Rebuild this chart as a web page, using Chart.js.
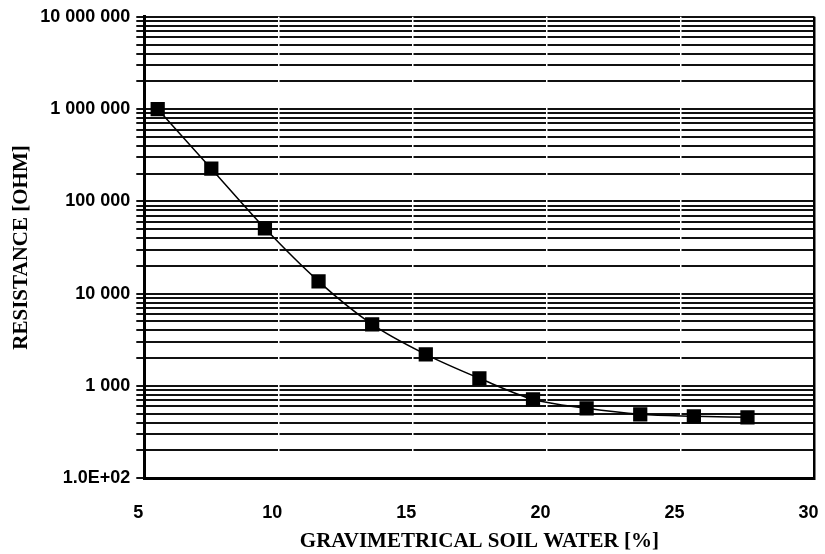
<!DOCTYPE html>
<html>
<head>
<meta charset="utf-8">
<script src="https://cdn.jsdelivr.net/npm/chart.js@4/dist/chart.umd.min.js"></script>
<style>
  html, body { margin: 0; padding: 0; background: #fff; }
  #wrap { width: 825px; height: 554px; }
</style>
</head>
<body>
<div id="wrap"><canvas id="myChart"></canvas></div>
<script>
// soil water content [%] and measured resistance [ohm]
const soilWater = [5.5, 7.5, 9.5, 11.5, 13.5, 15.5, 17.5, 19.5, 21.5, 23.5, 25.5, 27.5];
const resistance = [1000000, 226000, 51000, 13600, 4650, 2200, 1210, 716, 572, 493, 469, 457];

// y axis decades and their labels
const decades = [100, 1000, 10000, 100000, 1000000, 10000000];
const decadeLabels = ["1.0E+02", "1 000", "10 000", "100 000", "1 000 000", "10 000 000"];
const xTicks = [5, 10, 15, 20, 25, 30];

// every 1..9 x 10^n line for the log grid
const yGrid = [];
decades.forEach((d, i) => {
  if (i === decades.length - 1) { yGrid.push(d); return; }
  for (let k = 1; k <= 9; k++) yGrid.push(d * k);
});

const chart = document.getElementById("myChart");

new Chart(chart, {
  type: "line",
  data: {
    datasets: [
      {
        label: "resistance",
        data: soilWater.map((x, i) => ({ x: x, y: resistance[i] })),
        borderColor: "#000",
        backgroundColor: "#000",
        borderWidth: 1.5,
        pointStyle: "rect",
        pointRadius: 9,
        pointHoverRadius: 9,
        cubicInterpolationMode: "monotone",
        fill: false,
      },
    ],
  },
  options: {
    responsive: true,
    maintainAspectRatio: false,
    animation: false,
    layout: { padding: { left: 9, top: 16, right: 4, bottom: 0 } },
    plugins: {
      legend: { display: false },
      tooltip: { enabled: false },
    },
    scales: {
      x: {
        type: "linear",
        min: 5,
        max: 30,
        afterBuildTicks: (scale) => {
          scale.ticks = xTicks.map((v) => ({ value: v }));
        },
        grid: {
          z: -0.5,
          tickLength: 24,
          tickColor: "rgba(0,0,0,0)",
          color: (ctx) => (ctx.tick && ctx.tick.value === 30 ? "#000" : "#fff"),
          lineWidth: (ctx) => (ctx.tick && ctx.tick.value === 30 ? 2.5 : 1.5),
        },
        border: { display: true, color: "#000", width: 3 },
        ticks: {
          color: "#000",
          padding: 0,
          labelOffset: -6,
          font: { family: "'Liberation Sans', Arial, sans-serif", size: 18, weight: "bold" },
        },
        title: {
          display: true,
          text: "GRAVIMETRICAL SOIL WATER [%]",
          color: "#000",
          padding: { top: 5, bottom: 0 },
          font: { family: "'Liberation Serif', 'Times New Roman', serif", size: 21, weight: "bold" },
        },
      },
      y: {
        type: "logarithmic",
        min: 100,
        max: 10000000,
        afterBuildTicks: (scale) => {
          scale.ticks = yGrid.map((v) => ({ value: v, major: decades.includes(v) }));
        },
        grid: {
          color: "#111",
          lineWidth: 2,
          tickLength: 8,
        },
        border: { display: true, color: "#000", width: 3 },
        ticks: {
          autoSkip: false,
          color: "#000",
          padding: 6,
          font: { family: "'Liberation Sans', Arial, sans-serif", size: 18, weight: "bold" },
          callback: (value) => {
            const i = decades.indexOf(value);
            return i >= 0 ? decadeLabels[i] : "";
          },
        },
        title: {
          display: true,
          text: "RESISTANCE [OHM]",
          color: "#000",
          padding: { top: 0, bottom: 0 },
          font: { family: "'Liberation Serif', 'Times New Roman', serif", size: 21, weight: "bold" },
        },
      },
    },
  },
});
</script>
</body>
</html>
